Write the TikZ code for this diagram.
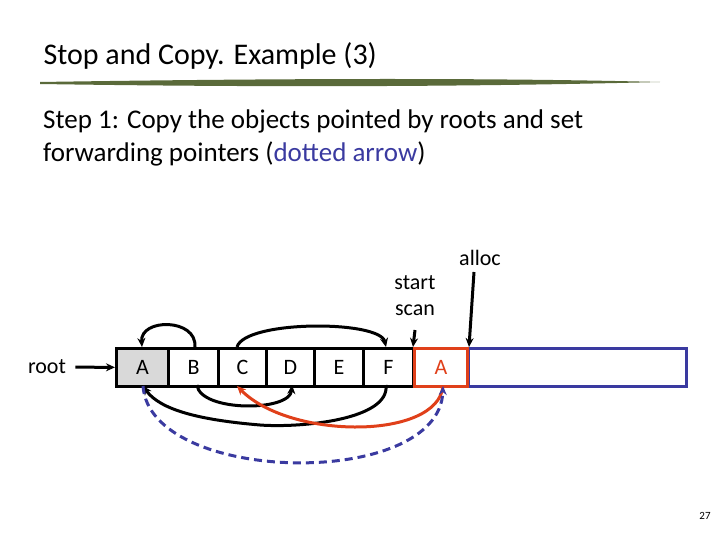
\documentclass[tikz,border=0pt]{standalone}
\usepackage{fontspec}
\setmainfont{Carlito}
\usetikzlibrary{arrows.meta}
\definecolor{bl}{HTML}{3A3AA0}
\definecolor{rd}{HTML}{E0401A}
\definecolor{ol}{HTML}{5A6A3A}
\begin{document}
\begin{tikzpicture}[x=1pt,y=-1pt,
  cell/.style={draw,line width=3pt,minimum height=38pt,inner sep=0pt,font=\fontsize{22}{24}\selectfont,anchor=north west},
  lbl/.style={font=\fontsize{22}{26}\selectfont},
  arr/.style={line width=3pt,-{Stealth[length=9pt,width=8pt]}}]
\useasboundingbox (0,0) rectangle (720,540);
\node[anchor=west,font=\fontsize{30}{32}\selectfont] (title) at (40,56) {Stop and Copy. Example (3)};
\fill[ol] (40,82) .. controls (300,78) and (500,78) .. (660,82) .. controls (500,86) and (300,88) .. (40,84) -- cycle;
\node[anchor=north west,align=left,font=\fontsize{27}{33}\selectfont,inner sep=0pt] (step) at (43,110) {Step 1: Copy the objects pointed by roots and set\\forwarding pointers (\textcolor{bl}{dotted arrow})};
\node[cell,fill=black!15,minimum width=52pt] (a) at (115,347) {A};
\node[cell,minimum width=50pt] (b) at (167,347) {B};
\node[cell,minimum width=48pt] (c) at (217,347) {C};
\node[cell,minimum width=48pt] (d) at (265,347) {D};
\node[cell,minimum width=49pt] (e) at (313,347) {E};
\node[cell,minimum width=50pt] (f) at (362,347) {F};
\node[cell,draw=bl,minimum width=218pt] (free) at (467,347) {};
\node[cell,draw=rd,text=rd,minimum width=53pt] (a2) at (413,347) {A};
\node[lbl] (root) at (47,367) {root};
\draw[arr,shorten <=6pt] (root) -- (a);
\node[lbl,align=center] (ss) at (415,296) {start\\scan};
\node[lbl] (alloc) at (480,258) {alloc};
\coordinate (sst) at (415,330);
\coordinate (alt) at (474,272);
\draw[arr] (sst) -- (a2.north west);
\draw[arr] (alt) -- (a2.north east);
% top arcs
\coordinate (at) at (142,347); \coordinate (bt) at (195,347);
\coordinate (ct) at (237,347); \coordinate (ft) at (386,347);
\draw[arr] (bt) .. controls (197,318) and (140,318) .. (at);
\draw[arr] (ct) .. controls (245,320) and (380,320) .. (ft);
% bottom arcs
\coordinate (bb) at (197,385); \coordinate (db) at (292,385);
\coordinate (fb) at (386,385); \coordinate (ab) at (143,386);
\coordinate (cb) at (237,386); \coordinate (a2b) at (443,386);
\draw[arr] (bb) .. controls (200,412) and (290,412) .. (db);
\draw[arr] (fb) .. controls (390,420) and (300,428) .. (260,425) .. controls (200,420) and (160,410) .. (ab);
\draw[arr,color=rd] (a2b) .. controls (438,440) and (290,440) .. (cb);
\draw[arr,bl,dash pattern=on 8pt off 5pt] (ab) .. controls (150,485) and (440,490) .. (a2b);
\node[font=\fontsize{11}{12}\selectfont] (pg) at (705,516) {27};
\end{tikzpicture}
\end{document}
